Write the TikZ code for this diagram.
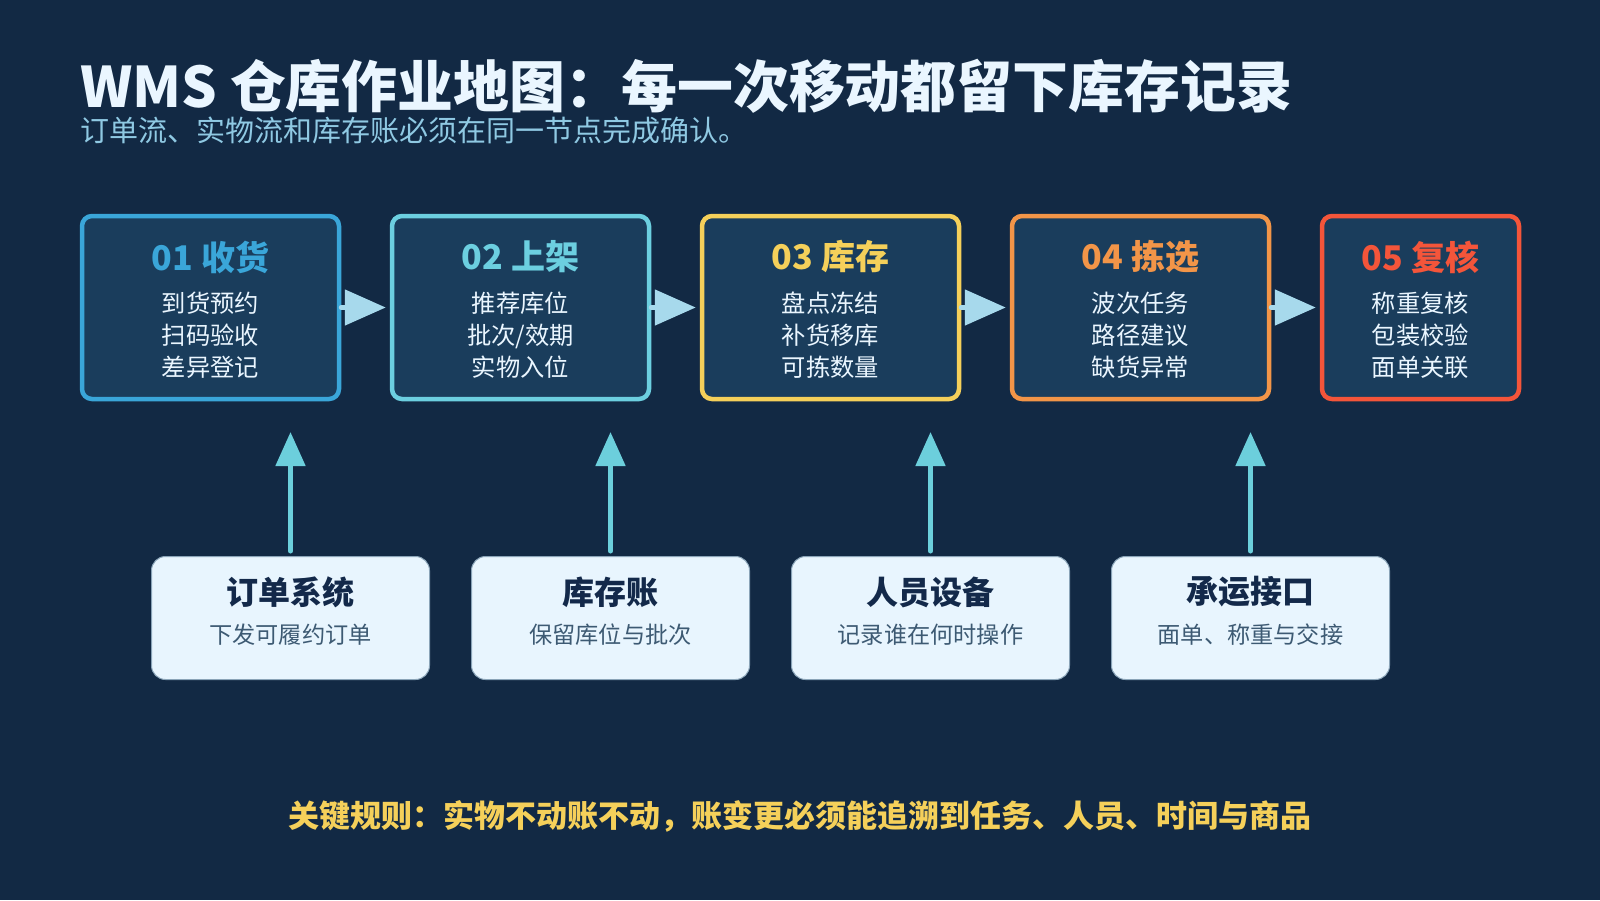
\documentclass[tikz,border=0pt]{standalone}
\usepackage{fontspec}
\setmainfont{Noto Sans CJK SC}
\usetikzlibrary{arrows.meta}
\definecolor{bgnavy}{HTML}{122944}
\definecolor{boxfill}{HTML}{1A3D5C}
\definecolor{recv}{HTML}{3AA6D9}
\definecolor{putaway}{HTML}{6CCFE0}
\definecolor{stock}{HTML}{F5D05A}
\definecolor{pick}{HTML}{F29548}
\definecolor{check}{HTML}{F4553A}
\definecolor{flowblue}{HTML}{A7D9EC}
\definecolor{feedteal}{HTML}{6CCFDC}
\definecolor{sysfill}{HTML}{E8F5FE}
\definecolor{sysline}{HTML}{8AA4B8}
\definecolor{sysdark}{HTML}{13294A}
\definecolor{sysgrey}{HTML}{3D5A73}
\definecolor{subblue}{HTML}{8FC9E3}
\definecolor{paper}{HTML}{EAF6FF}

\begin{document}
\begin{tikzpicture}[x=1pt,y=-1pt]
		\tikzset{stepbox/.style={draw,line width=4.5pt,rounded corners=10pt,fill=boxfill,minimum width=257pt,minimum height=183pt}}
		\tikzset{steptitle/.style={font=\bfseries\fontsize{34}{34}\selectfont}}
		\tikzset{stepbody/.style={align=center,text=paper,font=\fontsize{24.3}{32}\selectfont}}
		\tikzset{sysbox/.style={draw=sysline,line width=1pt,rounded corners=14pt,fill=sysfill,minimum width=278pt,minimum height=123pt}}
		\tikzset{systitle/.style={text=sysdark,font=\bfseries\fontsize{32}{32}\selectfont}}
		\tikzset{syssub/.style={text=sysgrey,font=\fontsize{23.2}{23.2}\selectfont}}
		\tikzset{flow/.style={-{Triangle[length=41pt,width=35pt]},line width=5pt,line cap=round,flowblue,shorten >=4pt}}
		\tikzset{feed/.style={-{Triangle[length=34pt,width=29pt]},line width=5pt,line cap=round,feedteal,shorten <=5pt}}
		
		\fill[bgnavy] (0,0) rectangle (1600,900);
		\useasboundingbox (0,0) rectangle (1600,900);
		
		% heading
		\node(title) at (80,86) [anchor=west,inner sep=0pt,text=paper,font=\bfseries\fontsize{55.9}{55.9}\selectfont] {WMS 仓库作业地图：每一次移动都留下库存记录};
		\node(subtitle) at (80,130) [anchor=west,inner sep=0pt,text=subblue,font=\fontsize{29}{29}\selectfont] {订单流、实物流和库存账必须在同一节点完成确认。};
		
		% process steps
		\node(step1) at (210.5,307.5) [stepbox,draw=recv] {};
		\node(step2) at (520.5,307.5) [stepbox,draw=putaway] {};
		\node(step3) at (830.5,307.5) [stepbox,draw=stock] {};
		\node(step4) at (1140.5,307.5) [stepbox,draw=pick] {};
		\node(step5) at (1420.5,307.5) [stepbox,draw=check,minimum width=197pt] {};
		
		\node(step1t) at (210.5,257) [steptitle,recv] {01 收货};
		\node(step2t) at (520.5,257) [steptitle,putaway] {02 上架};
		\node(step3t) at (830.5,257) [steptitle,stock] {03 库存};
		\node(step4t) at (1140.5,257) [steptitle,pick] {04 拣选};
		\node(step5t) at (1420.5,257) [steptitle,check] {05 复核};
		
		\node(step1b) at (210.5,335.5) [stepbody] {到货预约\\扫码验收\\差异登记};
		\node(step2b) at (520.5,335.5) [stepbody] {推荐库位\\批次/效期\\实物入位};
		\node(step3b) at (830.5,335.5) [stepbody] {盘点冻结\\补货移库\\可拣数量};
		\node(step4b) at (1140.5,335.5) [stepbody] {波次任务\\路径建议\\缺货异常};
		\node(step5b) at (1420.5,335.5) [stepbody] {称重复核\\包装校验\\面单关联};
		
		\draw[flow] (step1) -- (step2);
		\draw[flow] (step2) -- (step3);
		\draw[flow] (step3) -- (step4);
		\draw[flow] (step4) -- (step5);
		
		% feeding systems
		\node(sys1) at (290.5,618) [sysbox] {};
		\node(sys2) at (610.5,618) [sysbox] {};
		\node(sys3) at (930.5,618) [sysbox] {};
		\node(sys4) at (1250.5,618) [sysbox] {};
		
		\node(sys1t) at (290.5,592) [systitle] {订单系统};
		\node(sys2t) at (610.5,592) [systitle] {库存账};
		\node(sys3t) at (930.5,592) [systitle] {人员设备};
		\node(sys4t) at (1250.5,592) [systitle] {承运接口};
		
		\node(sys1s) at (290.5,635) [syssub] {下发可履约订单};
		\node(sys2s) at (610.5,635) [syssub] {保留库位与批次};
		\node(sys3s) at (930.5,635) [syssub] {记录谁在何时操作};
		\node(sys4s) at (1250.5,635) [syssub] {面单、称重与交接};
		
		\coordinate(in1) at (290.5,432);
		\coordinate(in2) at (610.5,432);
		\coordinate(in3) at (930.5,432);
		\coordinate(in4) at (1250.5,432);
		
		\draw[feed] (sys1) -- (in1);
		\draw[feed] (sys2) -- (in2);
		\draw[feed] (sys3) -- (in3);
		\draw[feed] (sys4) -- (in4);
		
		% footer rule
		\node(rule) at (800,816) [text=stock,font=\bfseries\fontsize{31}{31}\selectfont] {关键规则：实物不动账不动，账变更必须能追溯到任务、人员、时间与商品};
\end{tikzpicture}
\end{document}
